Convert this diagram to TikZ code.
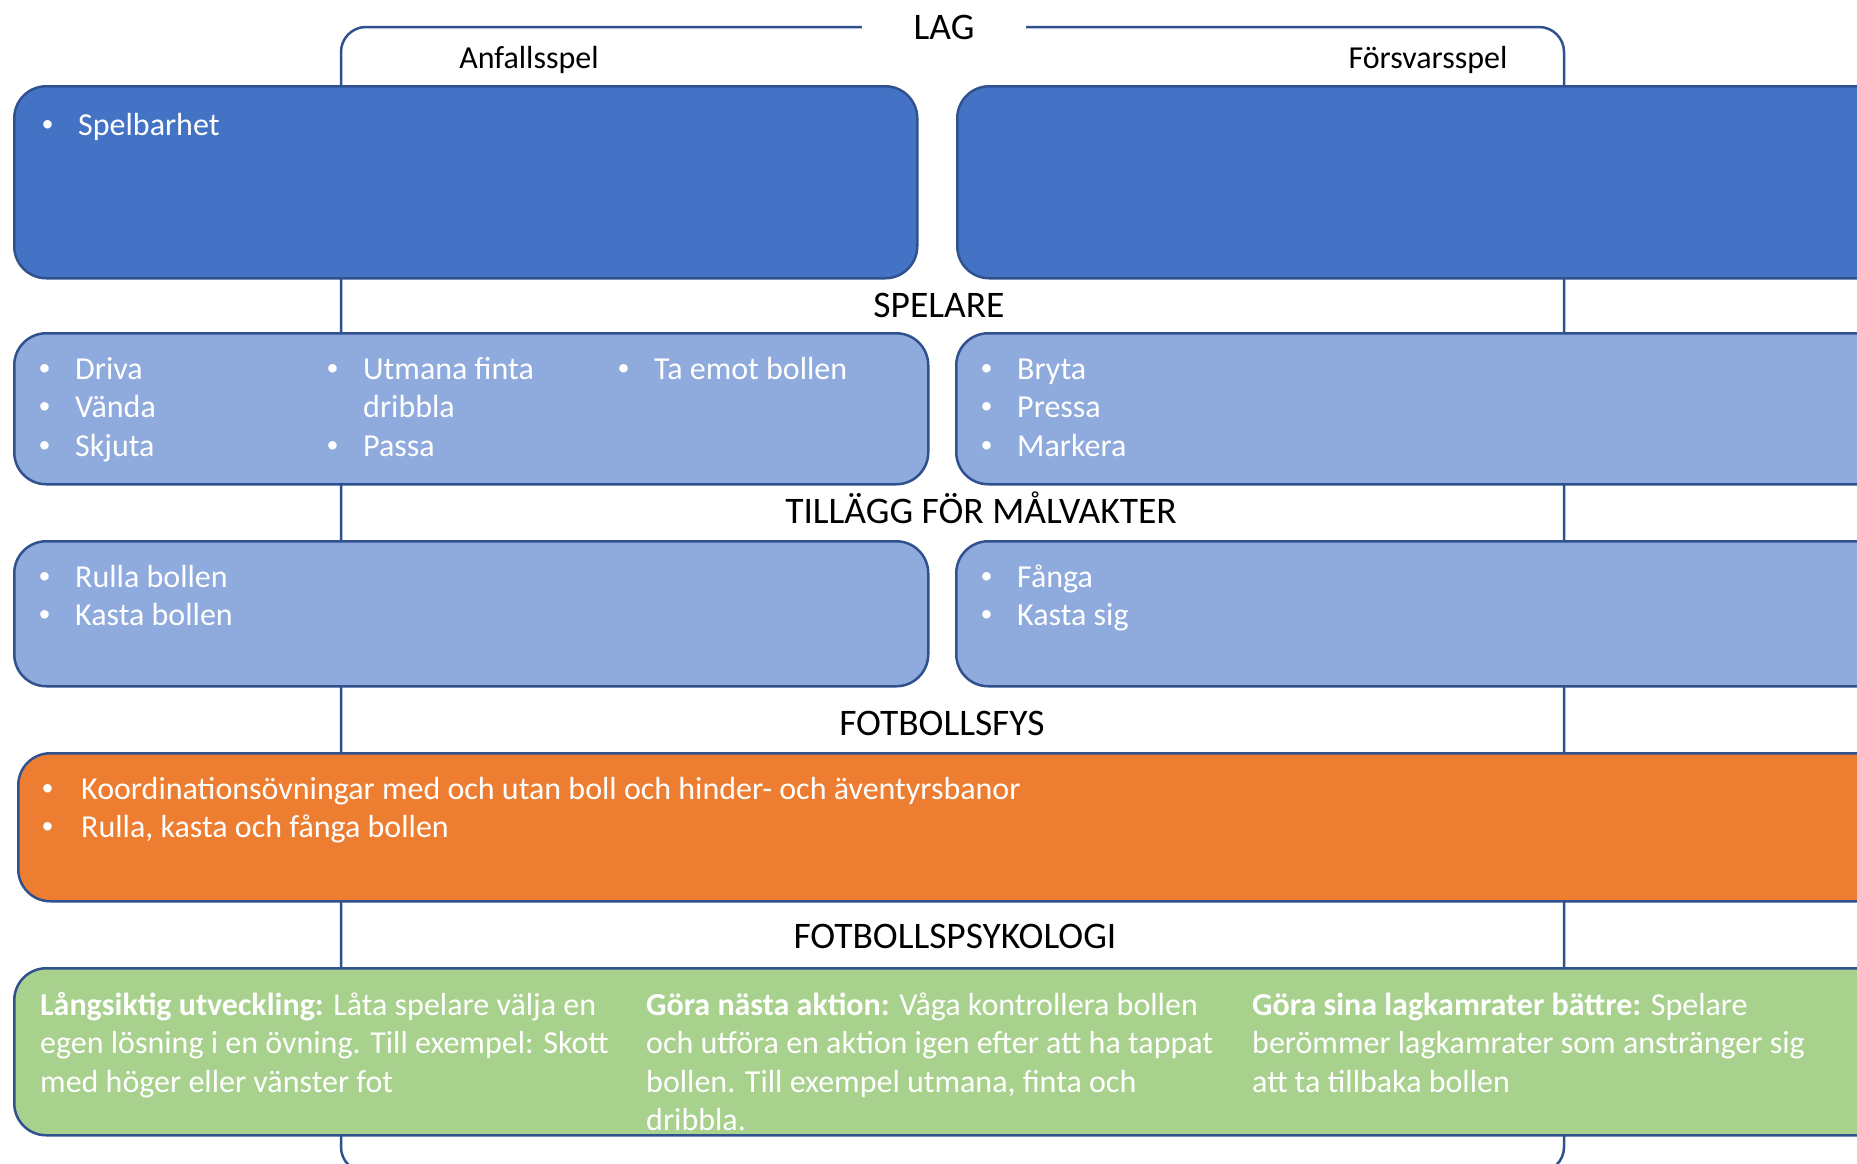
\documentclass[tikz,border=0pt]{standalone}
\usepackage{fontspec}
\usepackage{graphicx}
\setmainfont{Carlito}
\definecolor{dblue}{HTML}{4472C4}
\definecolor{lblue}{HTML}{8FAADC}
\definecolor{orng}{HTML}{ED7D31}
\definecolor{grn}{HTML}{A9D18E}
\definecolor{bord}{HTML}{2F528F}
\newcommand\smbul{\raisebox{0.1em}{\scalebox{0.75}{•}}}
\newcommand\bitem[1]{\makebox[38pt][l]{\hspace{1.5pt}\smbul}#1}
\begin{document}
\begin{tikzpicture}[x=1pt,y=-1pt,
  box/.style={draw=bord, line width=2.5pt, rounded corners=32pt, anchor=north west, inner sep=0pt},
  frame/.style={draw=bord, line width=2.5pt},
  title/.style={anchor=base, inner sep=0pt, font=\fontsize{37.5}{40}\selectfont, text=black},
  sub/.style={anchor=base, inner sep=0pt, font=\fontsize{32}{36}\selectfont, text=black},
  btext/.style={anchor=base west, inner sep=0pt, font=\fontsize{32}{38}\selectfont, text=white}]
\useasboundingbox (0,0) rectangle (1857,1163);
\clip (0,0) rectangle (1857,1163);
\fill[white] (0,0) rectangle (1857,1163);
% frame
\draw[frame, rounded corners=25pt] (341,1172) rectangle (1564,27);
% titles
\node[title, fill=white, minimum width=164pt, inner ysep=2pt] (lag) at (944,39) {LAG};
\node[sub] (anf) at (529,68) {Anfallsspel};
\node[sub] (forsv) at (1428,68) {Försvarsspel};
\node[title] (spelare) at (939,317) {SPELARE};
\node[title] (tillagg) at (981,523) {TILLÄGG FÖR MÅLVAKTER};
\node[title] (fys) at (942,735) {FOTBOLLSFYS};
\node[title] (psyk) at (955,948) {FOTBOLLSPSYKOLOGI};
% row 1
\node[box, fill=dblue, minimum width=903pt, minimum height=192pt] (b1l) at (13,85) {};
\node[box, fill=dblue, minimum width=940pt, minimum height=192pt] (b1r) at (956,85) {};
\node[btext] (t1) at (40,135) {\bitem{Spelbarhet}};
% row 2
\node[box, fill=lblue, minimum width=914pt, minimum height=151pt] (b2l) at (13,332) {};
\node[box, fill=lblue, minimum width=940pt, minimum height=151pt] (b2r) at (955,332) {};
\node[btext] (t2a) at (37,379) {\bitem{Driva}};
\node[btext] (t2b) at (37,417) {\bitem{Vända}};
\node[btext] (t2c) at (37,456) {\bitem{Skjuta}};
\node[btext] (t2d) at (325,379) {\bitem{Utmana finta}};
\node[btext] (t2e) at (363,417) {dribbla};
\node[btext] (t2f) at (325,456) {\bitem{Passa}};
\node[btext] (t2g) at (616,379) {\bitem{Ta emot bollen}};
\node[btext] (t2h) at (979,379) {\bitem{Bryta}};
\node[btext] (t2i) at (979,417) {\bitem{Pressa}};
\node[btext] (t2j) at (979,456) {\bitem{Markera}};
% row 3
\node[box, fill=lblue, minimum width=914pt, minimum height=145pt] (b3l) at (13,540) {};
\node[box, fill=lblue, minimum width=940pt, minimum height=145pt] (b3r) at (955,540) {};
\node[btext] (t3a) at (37,587) {\bitem{Rulla bollen}};
\node[btext] (t3b) at (37,625) {\bitem{Kasta bollen}};
\node[btext] (t3c) at (979,587) {\bitem{Fånga}};
\node[btext] (t3d) at (979,625) {\bitem{Kasta sig}};
% row 4
\node[box, fill=orng, minimum width=1880pt, minimum height=148pt] (b4) at (17,752) {};
\node[btext] (t4a) at (40,799) {\makebox[41pt][l]{\hspace{1.5pt}\smbul}Koordinationsövningar med och utan boll och hinder- och äventyrsbanor};
\node[btext] (t4b) at (40,837) {\makebox[41pt][l]{\hspace{1.5pt}\smbul}Rulla, kasta och fånga bollen};
% row 5
\node[box, fill=grn, minimum width=1880pt, minimum height=167pt] (b5) at (13,967) {};
\node[btext] (g1a) at (40,1015) {\textbf{Långsiktig utveckling:} Låta spelare välja en};
\node[btext] (g1b) at (40,1053) {egen lösning i en övning. Till exempel: Skott};
\node[btext] (g1c) at (40,1092) {med höger eller vänster fot};
\node[btext] (g2a) at (646,1015) {\textbf{Göra nästa aktion:} Våga kontrollera bollen};
\node[btext] (g2b) at (646,1053) {och utföra en aktion igen efter att ha tappat};
\node[btext] (g2c) at (646,1092) {bollen. Till exempel utmana, finta och};
\node[btext] (g2d) at (646,1130) {dribbla.};
\node[btext] (g3a) at (1252,1015) {\textbf{Göra sina lagkamrater bättre:} Spelare};
\node[btext] (g3b) at (1252,1053) {berömmer lagkamrater som anstränger sig};
\node[btext] (g3c) at (1252,1092) {att ta tillbaka bollen};
\end{tikzpicture}
\end{document}
